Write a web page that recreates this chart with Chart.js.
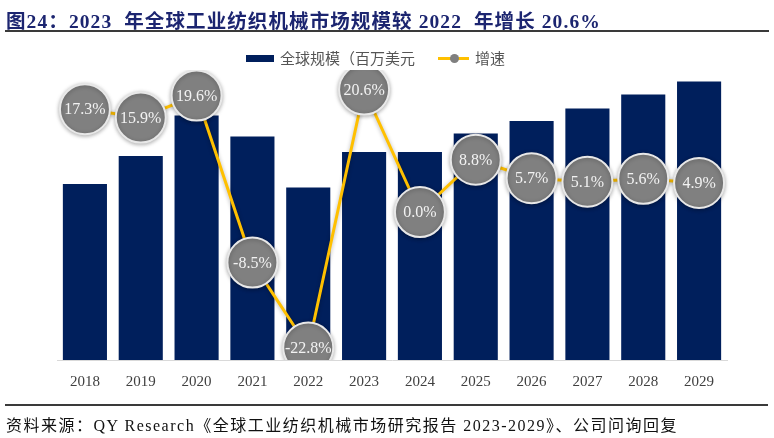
<!DOCTYPE html>
<html>
<head>
<meta charset="utf-8">
<script src="https://cdn.jsdelivr.net/npm/chart.js@4.4.1/dist/chart.umd.min.js"></script>
<style>
  body { margin: 0; background: #fff; }
  #wrap { position: relative; width: 774px; height: 438px; overflow: hidden; }
  #chart { position: absolute; left: 0; top: 0; }
  .title {
    position: absolute; left: 6px; top: 5px; width: 764px;
    font: bold 19.5px "Liberation Serif", "Noto Sans CJK SC", serif;
    letter-spacing: 1.1px; color: #1c2570; white-space: pre;
  }
  .rule { position: absolute; left: 5px; width: 764px; height: 0; border-top: 2px solid #3a3a3a; }
  .legend { position: absolute; top: 47px; font: 15px "Noto Sans CJK SC", sans-serif; color: #555; white-space: nowrap; }
  .footer {
    position: absolute; left: 6px; top: 412px;
    font: 16px "Liberation Serif", "Noto Sans CJK SC", serif; letter-spacing: 1.5px;
    color: #111; white-space: nowrap;
  }
</style>
</head>
<body>
<div id="wrap">
  <canvas id="chart" width="774" height="438"></canvas>
  <div class="title">图24：2023  年全球工业纺织机械市场规模较 2022  年增长 20.6%</div>
  <div class="rule" style="top:30px"></div>
  <div style="position:absolute;left:246px;top:55px;width:28px;height:7px;background:#001f5c"></div>
  <div class="legend" style="left:280px">全球规模（百万美元</div>
  <div style="position:absolute;left:438px;top:57px;width:31px;height:3px;background:#ffc000"></div>
  <div style="position:absolute;left:450px;top:54px;width:9px;height:9px;border-radius:50%;background:#7f7f7f"></div>
  <div class="legend" style="left:475px">增速</div>
  <div class="rule" style="top:404px;width:763px"></div>
  <div class="footer">资料来源：QY Research《全球工业纺织机械市场研究报告 2023-2029》、公司问询回复</div>
</div>
<script>
// categories
const years = ['2018', '2019', '2020', '2021', '2022', '2023', '2024', '2025', '2026', '2027', '2028', '2029'];
// market size (million USD)
const marketSize = [1760, 2040, 2445, 2235, 1725, 2080, 2080, 2265, 2390, 2515, 2655, 2785];
// growth rate (%)
const growthRate = [17.3, 15.9, 19.6, -8.5, -22.8, 20.6, 0.0, 8.8, 5.7, 5.1, 5.6, 4.9];

// Draw the % labels inside the round markers
const bubbleLabels = {
    id: 'bubbleLabels',
    afterDatasetsDraw(chart) {
        const meta = chart.getDatasetMeta(0);
        const ctx = chart.ctx;
        ctx.save();
        ctx.font = '16px "Liberation Serif", serif';
        ctx.fillStyle = '#f2f2f2';
        ctx.textAlign = 'center';
        ctx.textBaseline = 'middle';
        meta.data.forEach((pt, i) => {
            ctx.fillText(growthRate[i].toFixed(1) + '%', pt.x, pt.y + 1);
        });
        ctx.restore();
    }
};

// soft shadow under markers
const markerShadow = {
    id: 'markerShadow',
    beforeDatasetDraw(chart, args) {
        if (args.index === 0) {
            chart.ctx.save();
            chart.ctx.shadowColor = 'rgba(0,0,0,0.3)';
            chart.ctx.shadowBlur = 4;
            chart.ctx.shadowOffsetY = 1;
        }
    },
    afterDatasetDraw(chart, args) {
        if (args.index === 0) chart.ctx.restore();
    }
};

new Chart(document.getElementById('chart').getContext('2d'), {
    data: {
        labels: years,
        datasets: [{
            type: 'line',
            label: '增速',
            data: growthRate,
            yAxisID: 'y1',
            order: 0,
            borderColor: '#ffc000',
            borderWidth: 3,
            tension: 0,
            pointRadius: 25,
            pointBackgroundColor: '#808080',
            pointBorderColor: '#e8e8e8',
            pointBorderWidth: 2
        }, {
            type: 'bar',
            label: '全球规模（百万美元',
            data: marketSize,
            yAxisID: 'y',
            order: 1,
            backgroundColor: '#001f5c',
            categoryPercentage: 1,
            barPercentage: 0.79
        }]
    },
    options: {
        responsive: false,
        animation: false,
        layout: { padding: { left: 57, right: 47, top: 70, bottom: 34 } },
        plugins: { legend: { display: false }, tooltip: { enabled: false } },
        scales: {
            x: {
                grid: { display: false, drawTicks: false },
                border: { color: '#d9d9d9' },
                ticks: { padding: 13, color: '#404040', font: { family: '"Liberation Serif", serif', size: 15 } }
            },
            y: { display: false, min: 0, max: 2900 },
            y1: { display: false, min: -24.9, max: 23.9 }
        }
    },
    plugins: [markerShadow, bubbleLabels]
});
</script>
</body>
</html>
